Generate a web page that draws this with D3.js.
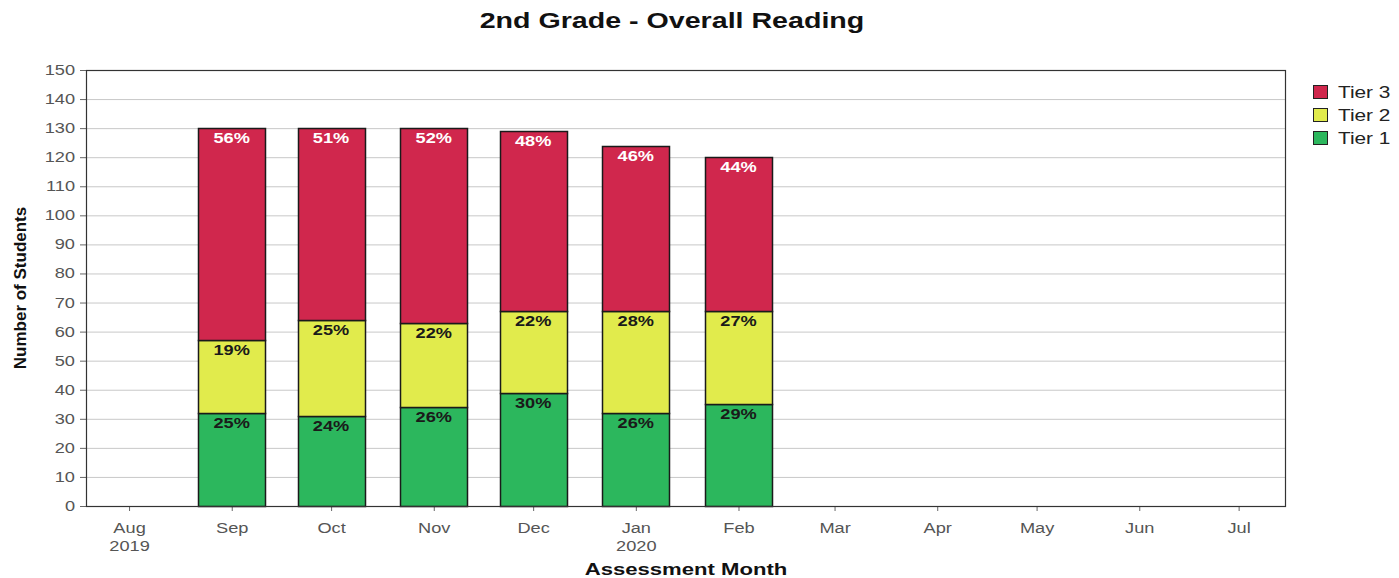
<!DOCTYPE html>
<html>
<head>
<meta charset="utf-8">
<script src="https://cdn.jsdelivr.net/npm/d3@7"></script>
<style>
  body { margin: 0; background: #fff; }
  svg { display: block; font-family: "Liberation Sans", Arial, sans-serif; }
</style>
</head>
<body>
<svg id="chart" width="1399" height="578"></svg>
<script>
(function () {
  'use strict';

  // data
  const months = ['2019-09-01', '2019-10-01', '2019-11-01', '2019-12-01', '2020-01-01', '2020-02-01'];
  const tier1 = [32, 31, 34, 39, 32, 35];
  const tier2 = [25, 33, 29, 28, 35, 32];
  const tier3 = [73, 66, 67, 62, 57, 53];
  const tiers = ['Tier 1', 'Tier 2', 'Tier 3'];
  const tickMonths = ['2019-08-01', '2019-09-01', '2019-10-01', '2019-11-01', '2019-12-01', '2020-01-01',
                      '2020-02-01', '2020-03-01', '2020-04-01', '2020-05-01', '2020-06-01', '2020-07-01'];
  const yTicks = d3.range(0, 151, 10);

  const COLORS = { 'Tier 1': '#2cb75d', 'Tier 2': '#e1eb4c', 'Tier 3': '#d0274d' };
  const LABEL  = { 'Tier 1': '#1a1a1a', 'Tier 2': '#1a1a1a', 'Tier 3': '#ffffff' };
  const M = { left: 86, top: 70, right: 1285, bottom: 506 };
  const BAR_W = 67;
  const STRETCH = 1.3; // reference text is rendered wide

  const parse = d3.utcParse('%Y-%m-%d');
  const rows = months.map((m, i) => ({
    date: parse(m), 'Tier 1': tier1[i], 'Tier 2': tier2[i], 'Tier 3': tier3[i],
    total: tier1[i] + tier2[i] + tier3[i]
  }));

  const svg = d3.select('#chart');

  const x = d3.scaleUtc()
    .domain([parse('2019-07-19'), parse('2020-07-15')])
    .range([M.left, M.right]);
  const y = d3.scaleLinear().domain([0, 150]).range([M.bottom, M.top]);

  // grid
  svg.append('g')
    .selectAll('line')
    .data(yTicks.filter(d => d > 0 && d < 150))
    .join('line')
    .attr('x1', M.left).attr('x2', M.right)
    .attr('y1', d => y(d) + 0.5).attr('y2', d => y(d) + 0.5)
    .attr('stroke', '#c8c8c8');

  // y axis
  const yAxis = svg.append('g')
    .attr('transform', `translate(${M.left},0)`)
    .call(d3.axisLeft(y).tickValues(yTicks).tickSize(6).tickPadding(5));
  yAxis.select('.domain').remove();
  yAxis.selectAll('line').attr('stroke', '#666');
  yAxis.selectAll('text').attr('fill', '#555').attr('font-size', 14)
    .attr('font-family', '"Liberation Sans", Arial, sans-serif');

  // x axis
  const fmt = d3.utcFormat('%b');
  const xAxis = svg.append('g')
    .attr('transform', `translate(0,${M.bottom})`)
    .call(d3.axisBottom(x).tickValues(tickMonths.map(parse)).tickSize(5).tickFormat(''));
  xAxis.select('.domain').remove();
  xAxis.selectAll('line').attr('stroke', '#666');
  xAxis.selectAll('.tick').each(function (d) {
    const t = d3.select(this).append('text')
      .attr('fill', '#555').attr('font-size', 14).attr('text-anchor', 'middle');
    t.append('tspan').attr('x', 0).attr('y', 27).text(fmt(d));
    if (d.getUTCMonth() === 7 || d.getUTCMonth() === 0) {
      t.append('tspan').attr('x', 0).attr('y', 45).text(d.getUTCFullYear());
    }
  });

  // stacked bars
  const stack = d3.stack().keys(tiers)(rows);
  const layer = svg.append('g').selectAll('g')
    .data(stack)
    .join('g')
    .attr('fill', d => COLORS[d.key]);

  layer.selectAll('rect')
    .data(d => d.map(v => Object.assign(v, { key: d.key })))
    .join('rect')
    .attr('x', d => Math.round(x(d.data.date) - BAR_W / 2) + 0.5)
    .attr('y', d => Math.round(y(d[1])) + 0.5)
    .attr('width', BAR_W)
    .attr('height', d => Math.round(y(d[0])) - Math.round(y(d[1])))
    .attr('stroke', '#1a1a1a')
    .attr('stroke-width', 1.5);

  layer.selectAll('text')
    .data(d => d)
    .join('text')
    .attr('x', d => x(d.data.date))
    .attr('y', d => y(d[1]) + 15)
    .attr('text-anchor', 'middle')
    .attr('font-size', 14)
    .attr('font-weight', 'bold')
    .attr('fill', d => LABEL[d.key])
    .text(d => Math.round((d[1] - d[0]) / d.data.total * 100) + '%');

  // frame
  svg.append('rect')
    .attr('x', M.left + 0.5).attr('y', M.top + 0.5)
    .attr('width', M.right - M.left).attr('height', M.bottom - M.top)
    .attr('fill', 'none').attr('stroke', '#333').attr('stroke-width', 1.2);

  // titles
  svg.append('text')
    .attr('x', 672).attr('y', 28)
    .attr('text-anchor', 'middle')
    .attr('font-size', 22).attr('font-weight', 'bold').attr('fill', '#111')
    .text('2nd Grade - Overall Reading');

  svg.append('text')
    .attr('x', 686).attr('y', 575)
    .attr('text-anchor', 'middle')
    .attr('font-size', 17).attr('font-weight', 'bold').attr('fill', '#111')
    .text('Assessment Month');

  svg.append('text')
    .attr('class', 'no-stretch')
    .attr('transform', `translate(26,${(M.top + M.bottom) / 2}) rotate(-90)`)
    .attr('text-anchor', 'middle')
    .attr('font-size', 17).attr('font-weight', 'bold').attr('fill', '#111')
    .text('Number of Students');

  // legend
  const legend = svg.append('g').attr('transform', 'translate(1313,85)');
  const li = legend.selectAll('g')
    .data(tiers.slice().reverse())
    .join('g')
    .attr('transform', (d, i) => `translate(0,${i * 23})`);
  li.append('rect')
    .attr('width', 14).attr('height', 13).attr('x', 0.5).attr('y', 0.5)
    .attr('fill', d => COLORS[d]).attr('stroke', '#222');
  li.append('text')
    .attr('x', 25).attr('y', 13)
    .attr('font-size', 16).attr('fill', '#222')
    .text(d => d);

  // widen horizontal text to match the reference rendering
  svg.selectAll('text, tspan').each(function () {
    if (this.classList.contains('no-stretch')) return;
    if (this.querySelector && this.querySelector('tspan')) return;
    const w = this.getComputedTextLength();
    d3.select(this).attr('textLength', w * STRETCH).attr('lengthAdjust', 'spacingAndGlyphs');
  });
})();
</script>
</body>
</html>
